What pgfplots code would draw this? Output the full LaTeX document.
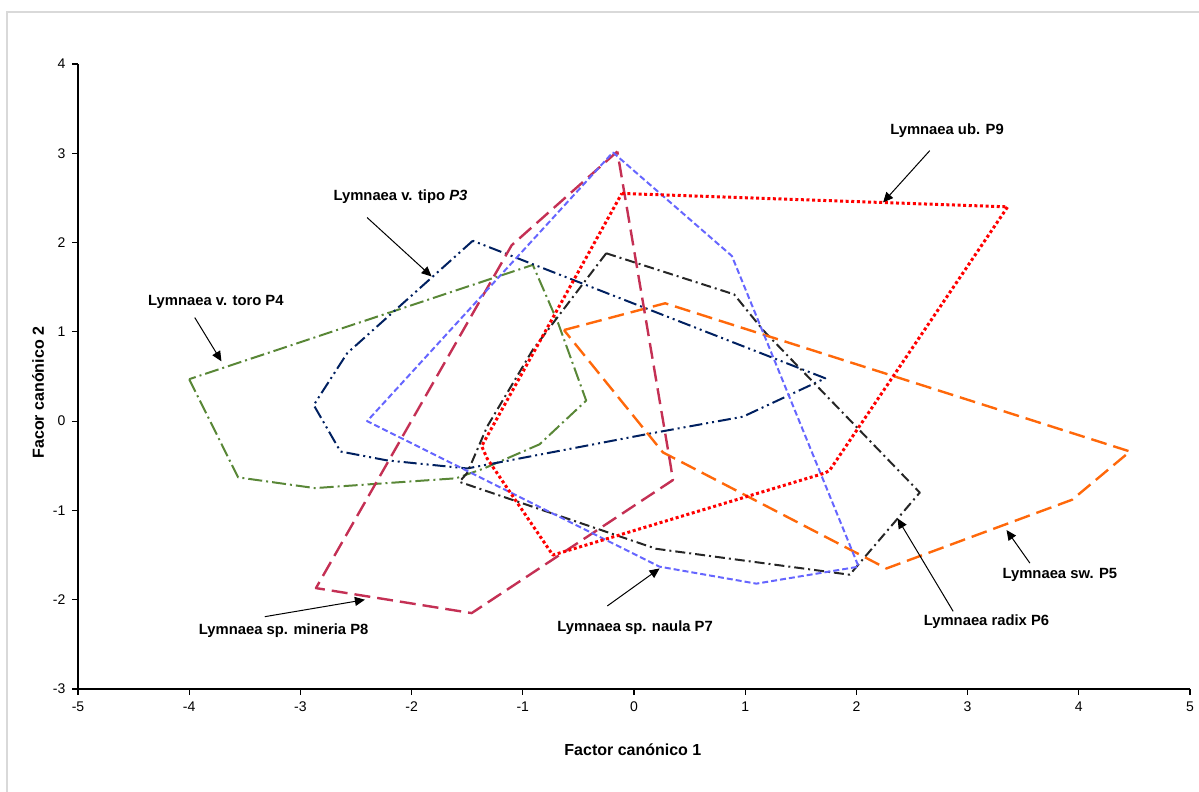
\documentclass[border=0pt]{standalone}
\usepackage{fontspec}
\setmainfont{Liberation Sans}
\usepackage{pgfplots}
\pgfplotsset{compat=1.18}
\usetikzlibrary{arrows.meta}
\definecolor{cnavy}{RGB}{0,32,96}
\definecolor{cgreen}{RGB}{89,135,55}
\definecolor{cblack}{RGB}{38,38,38}
\definecolor{corange}{RGB}{255,104,10}
\definecolor{ccrimson}{RGB}{196,48,84}
\definecolor{cblue}{RGB}{102,102,255}
\definecolor{cred}{RGB}{255,0,0}
\definecolor{cborder}{RGB}{217,217,217}
\begin{document}
\begin{tikzpicture}
\begin{axis}[
  at={(39pt,51.5pt)}, anchor=south west,
  scale only axis, width=556pt, height=312.5pt,
  xmin=-5, xmax=5, ymin=-3, ymax=4,
  xtick={-5,...,5}, ytick={-3,...,4},
  axis x line*=bottom, axis y line*=left,
  axis line style={-, black, line width=0.6pt},
  tick align=outside, major tick length=2.8pt,
  tick style={black, line width=0.6pt},
  ticklabel style={font=\fontsize{7}{8}\selectfont},
  /pgf/number format/assume math mode=true,
  clip=false,
  every axis plot/.append style={line join=round},
]
% P4 green
\addplot[cgreen, line width=1pt, dash pattern=on 7pt off 2pt on 1pt off 2pt] coordinates {
(-4.00,0.47) (-3.56,-0.63) (-2.87,-0.75) (-1.60,-0.64) (-1.35,-0.53) (-0.85,-0.26) (-0.43,0.23) (-0.68,1.09) (-0.91,1.75) (-4.00,0.47)};
% P3 navy
\addplot[cnavy, line width=1pt, dash pattern=on 6.5pt off 2pt on 1pt off 2pt on 1pt off 2pt] coordinates {
(-1.45,2.02) (-2.58,0.76) (-2.88,0.18) (-2.64,-0.34) (-2.22,-0.44) (-1.50,-0.53) (0.14,-0.14) (0.98,0.05) (1.72,0.48) (-1.45,2.02)};
% P6 black
\addplot[cblack, line width=1pt, dash pattern=on 5pt off 2pt on 1pt off 2pt] coordinates {
(-0.25,1.88) (0.90,1.42) (1.16,1.02) (2.57,-0.80) (1.94,-1.72) (0.20,-1.43) (-1.57,-0.68) (-1.50,-0.58) (-1.32,-0.06) (-0.91,0.80) (-0.25,1.88)};
% P5 orange
\addplot[corange, line width=1.2pt, dash pattern=on 8pt off 3.5pt] coordinates {
(-0.63,1.02) (0.28,1.32) (4.46,-0.34) (3.94,-0.88) (2.27,-1.65) (0.26,-0.35) (-0.63,1.02)};
% P8 crimson
\addplot[ccrimson, line width=1.2pt, dash pattern=on 8pt off 3.5pt] coordinates {
(-0.15,3.02) (-1.10,1.97) (-2.86,-1.87) (-1.46,-2.15) (0.35,-0.66) (0.33,-0.50) (-0.15,3.02)};
% P7 blue
\addplot[cblue, line width=1pt, dash pattern=on 3pt off 1.5pt] coordinates {
(-0.19,3.01) (0.88,1.85) (2.02,-1.63) (1.10,-1.82) (0.23,-1.63) (-2.40,0.00) (-0.19,3.01)};
% P9 red
\addplot[cred, line width=1.5pt, dash pattern=on 1.5pt off 1.3pt] coordinates {
(-0.11,2.55) (3.36,2.40) (1.76,-0.55) (1.72,-0.58) (-0.73,-1.50) (-1.32,-0.42) (-1.37,-0.28) (-0.11,2.55)};

% annotations
\begin{scope}[every node/.style={font=\fontsize{7.4}{8}\selectfont\bfseries, inner sep=0pt}]
\node at (axis cs:2.815,3.25) {Lymnaea ub. P9};
\node at (axis cs:-2.10,2.51) {Lymnaea v. tipo \textit{P3}};
\node at (axis cs:-3.76,1.34) {Lymnaea v. toro P4};
\node at (axis cs:-3.15,-2.35) {Lymnaea sp. mineria P8};
\node at (axis cs:0.01,-2.31) {Lymnaea sp. naula P7};
\node at (axis cs:3.17,-2.25) {Lymnaea radix P6};
\node at (axis cs:3.83,-1.72) {Lymnaea sw. P5};
\end{scope}
\begin{scope}[black, line width=0.5pt, -{Triangle[length=5pt,width=4.5pt]}]
\draw (axis cs:2.66,3.03) -- (axis cs:2.24,2.45);
\draw (axis cs:-2.40,2.28) -- (axis cs:-1.82,1.62);
\draw (axis cs:-3.95,1.16) -- (axis cs:-3.71,0.67);
\draw (axis cs:-3.32,-2.19) -- (axis cs:-2.42,-2.00);
\draw (axis cs:-0.24,-2.07) -- (axis cs:0.23,-1.65);
\draw (axis cs:2.87,-2.13) -- (axis cs:2.37,-1.09);
\draw (axis cs:3.56,-1.59) -- (axis cs:3.35,-1.22);
\end{scope}
\node[font=\fontsize{8}{9}\selectfont\bfseries, rotate=90] at (axis cs:-5.36,0.32) {Facor canónico 2};
\node[font=\fontsize{8}{9}\selectfont\bfseries] at (axis cs:-0.01,-3.68) {Factor canónico 1};
\end{axis}
\draw[cborder, line width=0.8pt] (3.5pt,0pt) -- (3.5pt,390pt) -- (599.5pt,390pt);
\pgfresetboundingbox
\path[use as bounding box] (0,0) rectangle (599.5pt,396pt);
\end{tikzpicture}
\end{document}
